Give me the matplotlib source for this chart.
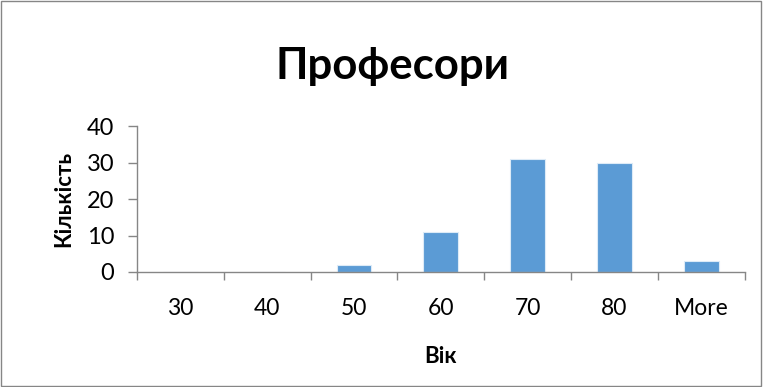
import matplotlib.pyplot as plt
import numpy as np

plt.rcParams['font.family'] = ['Lato', 'DejaVu Sans']

categories = ["30", "40", "50", "60", "70", "80", "More"]
counts = [0, 0, 2, 11, 31, 30, 3]

fig = plt.figure(figsize=(7.63, 3.87), dpi=100)
ax = fig.add_axes([0.1796, 0.2972, 0.7964, 0.3768])

x = np.arange(len(categories))
ax.bar(x, counts, width=0.4, color="#5B9BD5", edgecolor="#DDEBF7", linewidth=0.8)

ax.set_xlim(-0.5, len(categories) - 0.5)
ax.set_ylim(0, 40)
ax.set_yticks([0, 10, 20, 30, 40])

ax.set_xticks(x)
ax.set_xticklabels(categories, fontsize=16.5)
ax.tick_params(axis="x", length=0, pad=19)
ax.set_xticks(np.arange(len(categories) + 1) - 0.5, minor=True)
ax.tick_params(axis="x", which="minor", length=6, color="#868686", width=1)
ax.tick_params(axis="y", labelsize=17, length=6.5, color="#868686", width=1, pad=10)

for side in ["top", "right"]:
    ax.spines[side].set_visible(False)
for side in ["left", "bottom"]:
    ax.spines[side].set_color("#868686")
    ax.spines[side].set_linewidth(1)

ax.set_xlabel("Вік", fontsize=16, fontweight="bold", labelpad=19)
ax.set_ylabel("Кількість", fontsize=16, fontweight="bold", labelpad=9)

fig.text(0.514, 0.83, "Професори", ha="center", va="center", fontsize=31.5, fontweight="bold")

fig.patches.append(plt.Rectangle((0.001, 0.002), 0.997, 0.995, transform=fig.transFigure,
                                 fill=False, edgecolor="#868686", linewidth=1))

plt.savefig("out.png", dpi=100)
